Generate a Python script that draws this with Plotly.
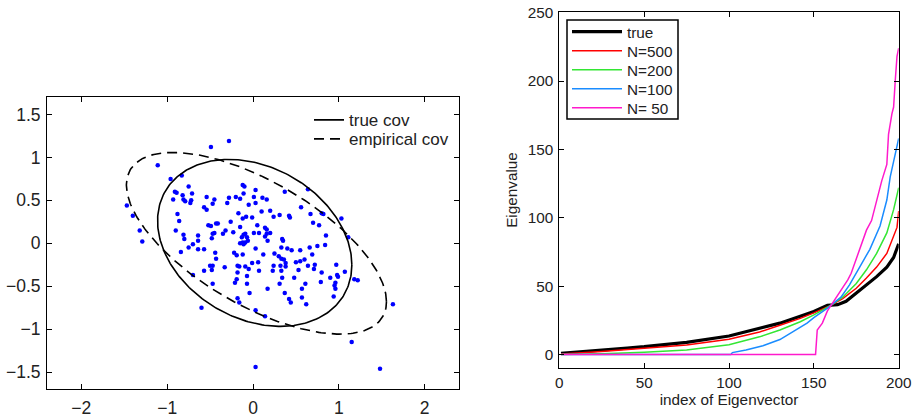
import numpy as np
import plotly.graph_objects as go

# ---------------- Left panel data (samples) ----------------
pts_x = [-0.28, -0.49, -1.11, -1.47, -1.40, -1.32, -1.29, -0.96, -0.83, -0.91, -0.89, -0.82, -0.75, -0.71,
         -0.81, -0.79, -0.72, -0.73, -0.93, -0.88, -0.86, -0.90, -0.81, -0.80, -0.64, -0.64, -0.70, -0.75,
         -0.64, -0.57, -0.54, -0.45, -0.47, -0.57, -0.54, -0.28, -0.30, -0.20, -0.15, -0.12, -0.10, -0.11,
         0.01, -0.05, -0.17, -0.08, -0.12, -0.01, -0.52, -0.49, -0.43, -0.41, -0.47, -0.45, -0.35, -0.32,
         -0.26, -0.15, -0.23, -0.11, -0.09, -0.13, -0.07, -0.12, -0.15, -0.09, -0.06, -0.11, -0.48, 0.01,
         0.03, 0.03, 0.11, 0.16, 0.10, 0.20, 0.24, 0.31, 0.42, 0.43, 0.37, 0.64, 0.56, 0.67, 0.80, 0.82,
         0.70, 0.77, 1.03, 0.85, 0.84, 1.11, 0.05, 0.07, 0.14, 0.16, 0.16, 0.14, 0.17, 0.20, 0.34, 0.35,
         0.33, 0.40, 0.45, 0.55, 0.66, 0.75, 0.03,
         -0.84, -0.44, -0.43, -0.22, -0.19, -0.12, -0.50, -0.47, -0.33, -0.57, -0.48, -0.70, -0.47, -0.18,
         -0.16, -0.09, -0.05, -0.01, -0.18, -0.19, -0.21, -0.07, -0.07, -0.04, -0.18, -0.16, -0.60,
         0.12, 0.25, 0.30, 0.33, 0.36, 0.38, 0.38, 0.32, 0.33, 0.24, 0.23, 0.06, 0.07, 0.50, 0.55, 0.60,
         0.69, 0.64, 0.72, 0.71, 0.53, 0.48, 0.34, 0.31, 0.37, 0.42, 0.44, 0.57, 0.61, 0.57, 0.62, 0.17,
         0.80, 0.79, 0.90, 0.97, 0.98, 0.99, 0.96, 0.95, 0.96, 0.94, 1.07, 1.18, 1.22, 1.63, 0.14, 0.03,
         1.15, 0.03, 1.48]
pts_y = [1.19, 1.12, 0.91, 0.44, 0.32, 0.15, 0.02, 0.75, 0.79, 0.60, 0.59, 0.56, 0.66, 0.58,
         0.51, 0.49, 0.50, 0.47, 0.51, 0.34, 0.26, 0.15, 0.10, 0.05, 0.09, 0.03, -0.01, -0.05,
         -0.07, -0.07, 0.54, 0.51, 0.46, 0.42, 0.39, 0.53, 0.47, 0.54, 0.52, 0.68, 0.66, 0.58,
         0.54, 0.45, 0.35, 0.31, 0.29, 0.30, 0.21, 0.20, 0.23, 0.23, 0.11, 0.12, 0.11, 0.15,
         0.25, 0.19, 0.13, 0.10, 0.11, 0.07, 0.07, 0.01, 0.00, 0.01, 0.03, -0.01, 0.06, 0.12,
         0.62, 0.47, 0.53, 0.51, 0.37, 0.38, 0.31, 0.33, 0.32, 0.30, 0.60, 0.63, 0.42, 0.34, 0.35, 0.34,
         0.24, 0.21, 0.29, 0.09, -0.02, 0.07, 0.21, 0.12, 0.18, 0.16, 0.11, 0.08, 0.03, 0.12, 0.05, 0.03,
         -0.05, -0.06, -0.08, -0.08, -0.05, -0.03, -0.06,
         -0.10, -0.11, -0.18, -0.11, -0.14, -0.13, -0.26, -0.26, -0.28, -0.32, -0.31, -0.37, -0.47, -0.26,
         -0.27, -0.27, -0.30, -0.23, -0.34, -0.42, -0.46, -0.38, -0.47, -0.58, -0.64, -0.69, -0.75,
         -0.13, -0.12, -0.15, -0.18, -0.19, -0.23, -0.27, -0.26, -0.32, -0.26, -0.32, -0.22, -0.32, -0.22, -0.21, -0.19,
         -0.13, -0.26, -0.25, -0.30, -0.31, -0.40, -0.40, -0.47, -0.58, -0.65, -0.69, -0.53, -0.47, -0.63, -0.71, -0.53,
         -0.34, -0.45, -0.40, -0.25, -0.37, -0.39, -0.46, -0.49, -0.53, -0.62, -0.33, -0.42, -0.43, -0.71, -0.85, -0.78,
         -1.15, -1.44, -1.46]

true_center = [0.02, 0.005]
true_shape = [[1.281, -0.29], [-0.29, 0.945]]
emp_center = [0.04, 0.0]
emp_shape = [[2.295, -1.03], [-1.03, 1.119]]

# ---------------- Right panel data (eigenvalue spectra) ----------------
true_idx = [1, 10, 25, 40, 50, 75, 100, 118, 130, 142, 150, 158, 164, 169, 175, 181, 187, 193, 197, 200]
true_val = [1, 2, 3.4, 4.8, 5.8, 9, 13.6, 19, 23, 28, 31.5, 36, 36.5, 39, 45, 51, 57, 64, 71, 81]
n500_idx = [1, 25, 50, 75, 100, 118, 130, 142, 150, 160, 167, 175, 181, 187, 193, 197, 199, 200]
n500_val = [0.5, 2.2, 4.6, 7, 11.2, 16.5, 21.5, 26.5, 30.5, 36, 41, 48.5, 56, 64, 74, 86, 93, 105]
n200_idx = [1, 25, 50, 75, 100, 118, 130, 142, 150, 160, 167, 175, 181, 187, 193, 197, 200]
n200_val = [0.1, 0.6, 1.7, 3.4, 7.3, 13, 18, 24, 29, 36, 42, 52, 62, 74, 89, 106, 122]
n100_idx = [1, 101, 102, 110, 120, 130, 138, 146, 150, 158, 166, 171, 177, 183, 189, 193, 195, 197, 199, 200]
n100_val = [0, 0, 1.5, 3.4, 6.5, 11, 17, 23, 27, 34, 42, 51, 64, 77, 94, 113, 130, 142, 152, 158]
n50_idx = [1, 151, 152, 155, 158, 161, 166, 170, 172, 176, 178, 181, 184, 187, 190, 193, 194, 196, 197, 198, 199, 200]
n50_val = [0, 0, 18, 23, 32, 37.5, 47, 54.6, 59.5, 73, 81, 91, 98, 113, 127, 139, 161, 176, 181, 201, 218, 224]

series_names = ["true", "N=500", "N=200", "N=100", "N= 50"]
series_colors = ["#000000", "#ff0000", "#33e633", "#1a8cff", "#ff1acc"]

FONT = "Liberation Sans, Arial, Helvetica, sans-serif"
TXT = "#222222"
W, H = 919, 418


def ellipse(center, shape, n=300):
    L = np.linalg.cholesky(np.array(shape, dtype=float))
    t = np.linspace(0, 2 * np.pi, n)
    e = L @ np.vstack([np.cos(t), np.sin(t)])
    return center[0] + e[0], center[1] + e[1]


fig = go.Figure()

# left panel
fig.add_trace(go.Scatter(x=pts_x, y=pts_y, mode="markers", xaxis="x", yaxis="y",
                         marker=dict(color="#0000ff", size=4.5), showlegend=False, hoverinfo="skip"))
tx, ty = ellipse(true_center, true_shape)
fig.add_trace(go.Scatter(x=tx, y=ty, mode="lines", xaxis="x", yaxis="y", name="true cov",
                         line=dict(color="black", width=1.6), legend="legend6"))
ex, ey = ellipse(emp_center, emp_shape)
fig.add_trace(go.Scatter(x=ex, y=ey, mode="lines", xaxis="x", yaxis="y", name="empirical cov",
                         line=dict(color="black", width=1.6, dash="10px,6px"), legend="legend7"))

# right panel (one legend entry per row so rows sit at the reference spacing)
all_idx = [true_idx, n500_idx, n200_idx, n100_idx, n50_idx]
all_val = [true_val, n500_val, n200_val, n100_val, n50_val]
widths = [3.2, 1.5, 1.5, 1.5, 1.5]
right_legends = ["legend", "legend2", "legend3", "legend4", "legend5"]
for nm, col, ix, vv, w, lg in zip(series_names, series_colors, all_idx, all_val, widths, right_legends):
    fig.add_trace(go.Scatter(x=ix, y=vv, mode="lines", xaxis="x2", yaxis="y2", name=nm,
                             line=dict(color=col, width=w), legend=lg))

axis_common = dict(showline=True, linecolor="black", linewidth=1, mirror="ticks", ticks="inside",
                   ticklen=5, tickcolor="black", showgrid=False, zeroline=False, automargin=False)


def leg(xpix, ypix, size, iw):
    return dict(x=xpix / W, y=1 - ypix / H, xanchor="left", yanchor="middle", bgcolor="rgba(0,0,0,0)",
                borderwidth=0, font=dict(size=size, color=TXT), tracegroupgap=0, itemwidth=iw)


right_rows = [31.7, 50.7, 69.7, 88.7, 107.7]
legends = {}
for lg, yp in zip(right_legends, right_rows):
    legends[lg] = leg(567, yp, 15.3, 50)
legends["legend6"] = leg(309, 120.3, 17, 30)
legends["legend7"] = leg(309, 139.3, 17, 30)

fig.update_layout(
    width=W, height=H, margin=dict(l=0, r=0, t=0, b=0),
    paper_bgcolor="white", plot_bgcolor="white",
    font=dict(family=FONT, color=TXT),
    xaxis=dict(domain=[47 / W, 459 / W], range=[-2.4, 2.4], tickvals=[-2, -1, 0, 1, 2],
               tickfont=dict(size=17.5), anchor="y", ticklabelstandoff=3, **axis_common),
    yaxis=dict(domain=[1 - 389.3 / H, 1 - 97.3 / H], range=[-1.7, 1.7],
               tickvals=[-1.5, -1, -0.5, 0, 0.5, 1, 1.5], tickfont=dict(size=17.5), anchor="x",
               ticklabelstandoff=2, **axis_common),
    xaxis2=dict(domain=[559.3 / W, 898.7 / W], range=[0, 200], tickvals=[0, 50, 100, 150, 200],
                tickfont=dict(size=15.3), anchor="y2", ticklabelstandoff=0,
                title=dict(text="index of Eigenvector", font=dict(size=15.3), standoff=2), **axis_common),
    yaxis2=dict(domain=[1 - 368.3 / H, 1 - 11.7 / H], range=[-10, 250.7],
                tickvals=[0, 50, 100, 150, 200, 250], tickfont=dict(size=15.3), anchor="x2",
                ticklabelstandoff=2,
                title=dict(text="Eigenvalue", font=dict(size=15.3), standoff=6), **axis_common),
    shapes=[dict(type="rect", xref="paper", yref="paper", x0=567 / W, x1=678 / W,
                 y0=1 - 119 / H, y1=1 - 20 / H, line=dict(color="black", width=1.5),
                 fillcolor="rgba(0,0,0,0)", layer="above")],
    **legends,
)

fig.write_html("out.html", config={"displayModeBar": False},
               post_script="document.body.style.margin='0';document.body.style.padding='0';")
